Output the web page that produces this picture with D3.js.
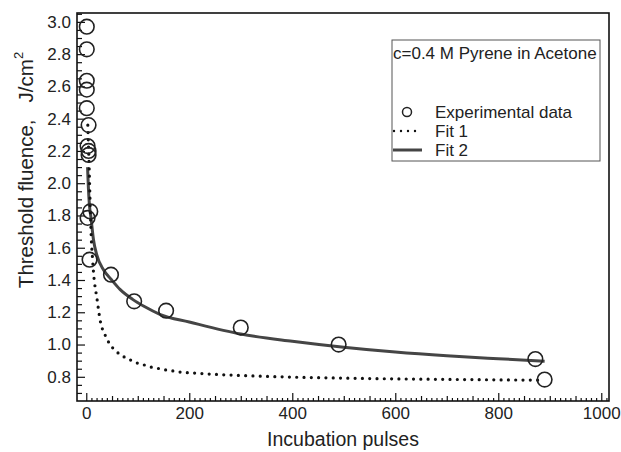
<!DOCTYPE html>
<html>
<head>
<meta charset="utf-8">
<script src="https://cdn.jsdelivr.net/npm/d3@7"></script>
<style>
  body { margin: 0; background: #fff; }
  svg { font-family: "Liberation Sans", Arial, sans-serif; }
</style>
</head>
<body>
<div class="chart"></div>
<script>
// Experimental points
const pulses  = [1, 1, 1, 1, 1, 4.5, 2.5, 4.5, 4.5, 7.8, 2.5, 6.4, 48, 93, 155, 300, 490, 872, 890];
const fluence = [2.97, 2.83, 2.635, 2.58, 2.465, 2.36, 2.23, 2.20, 2.175, 1.825, 1.785, 1.526, 1.433, 1.268, 1.21, 1.105, 1.0, 0.91, 0.783];

// Fit 1 (dotted)
const fit1X = [3, 4, 5, 6, 7, 8, 9, 10, 12, 14, 21, 27, 37, 45, 57, 71, 86, 100, 114, 128, 143, 157, 171, 185, 200, 250, 300, 400, 500, 600, 700, 800, 880];
const fit1Y = [2.36, 2.26, 2.17, 2.05, 1.93, 1.82, 1.72, 1.64, 1.54, 1.45, 1.28, 1.15, 1.056, 1.006, 0.961, 0.928, 0.904, 0.884, 0.872, 0.858, 0.85, 0.841, 0.835, 0.828, 0.825, 0.815, 0.808, 0.798, 0.792, 0.787, 0.784, 0.781, 0.779];

// Fit 2 (solid)
const fit2X = [2.5, 4, 6, 9, 14, 20, 34, 48, 66, 90, 112, 144, 200, 300, 400, 500, 600, 700, 800, 890];
const fit2Y = [2.1, 1.98, 1.87, 1.79, 1.65, 1.56, 1.46, 1.405, 1.34, 1.28, 1.237, 1.186, 1.14, 1.065, 1.02, 0.983, 0.953, 0.93, 0.912, 0.897];

const xTicks = [0, 200, 400, 600, 800, 1000];
const yTicks = [0.8, 1.0, 1.2, 1.4, 1.6, 1.8, 2.0, 2.2, 2.4, 2.6, 2.8, 3.0];

const width = 621, height = 452;
const plotL = 77, plotR = 609, plotT = 13, plotB = 401;

const svg = d3.select(".chart").append("svg")
    .attr("width", width)
    .attr("height", height);

const x = d3.scaleLinear().domain([-18, 1015]).range([plotL, plotR]);
const y = d3.scaleLinear().domain([0.65, 3.055]).range([plotB, plotT]);

// minor ticks
const xMinor = d3.range(0, 1011, 10).filter(d => d % 50 !== 0);
const xMid = d3.range(0, 1011, 50).filter(d => d % 200 !== 0);
const yMinor = d3.range(0.7, 3.051, 0.05).map(d => +d.toFixed(2)).filter(d => Math.round(d * 100) % 20 !== 0);

function tickAxis(axis, vals, size) {
    return axis.tickValues(vals).tickSizeInner(-size).tickSizeOuter(0).tickFormat("");
}

const gx = svg.append("g").attr("transform", `translate(0,${plotB})`);
gx.append("g").call(tickAxis(d3.axisBottom(x), xMinor, 3));
gx.append("g").call(tickAxis(d3.axisBottom(x), xMid, 5));
gx.append("g").call(d3.axisBottom(x).tickValues(xTicks).tickSizeInner(-8).tickSizeOuter(0).tickPadding(6)
    .tickFormat(d3.format("d")));

const gy = svg.append("g").attr("transform", `translate(${plotL},0)`);
gy.append("g").call(tickAxis(d3.axisLeft(y), yMinor, 5));
gy.append("g").call(d3.axisLeft(y).tickValues(yTicks).tickSizeInner(-8).tickSizeOuter(0).tickPadding(6)
    .tickFormat(d3.format(".1f")));

svg.selectAll(".domain").remove();
svg.selectAll(".tick line").attr("stroke", "#111").attr("stroke-width", 1.2);
svg.selectAll("g").attr("font-family", null);
svg.selectAll(".tick text").attr("font-size", 17).attr("fill", "#222");

// frame
svg.append("rect")
    .attr("x", plotL).attr("y", plotT)
    .attr("width", plotR - plotL).attr("height", plotB - plotT)
    .attr("fill", "none").attr("stroke", "#111").attr("stroke-width", 1.6);

const line = d3.line().x(d => x(d[0])).y(d => y(d[1])).curve(d3.curveMonotoneX);

svg.append("path")
    .datum(d3.zip(fit2X, fit2Y))
    .attr("d", line)
    .attr("fill", "none").attr("stroke", "#454545").attr("stroke-width", 3);

svg.append("path")
    .datum(d3.zip(fit1X, fit1Y))
    .attr("d", line)
    .attr("fill", "none").attr("stroke", "#111").attr("stroke-width", 3.2)
    .attr("stroke-linecap", "round").attr("stroke-dasharray", "0 7.3");

svg.append("g").selectAll("circle")
    .data(d3.zip(pulses, fluence))
    .join("circle")
    .attr("cx", d => x(d[0])).attr("cy", d => y(d[1]))
    .attr("r", 7.3)
    .attr("fill", "none").attr("stroke", "#222").attr("stroke-width", 1.6);

// legend
const lg = svg.append("g");
lg.append("rect")
    .attr("x", 392).attr("y", 40).attr("width", 208).attr("height", 121)
    .attr("fill", "#fff").attr("stroke", "#555").attr("stroke-width", 1);
lg.append("text").attr("x", 393).attr("y", 59).attr("font-size", 17).attr("fill", "#222")
    .text("c=0.4 M Pyrene in Acetone");
const rows = [
    {label: "Experimental data", y: 112, kind: "circle"},
    {label: "Fit 1", y: 131, kind: "dot"},
    {label: "Fit 2", y: 150, kind: "line"}
];
rows.forEach(r => {
    if (r.kind === "circle") {
        lg.append("circle").attr("cx", 407).attr("cy", r.y).attr("r", 4.5)
            .attr("fill", "none").attr("stroke", "#222").attr("stroke-width", 1.5);
    } else if (r.kind === "dot") {
        lg.append("line").attr("x1", 394).attr("x2", 420).attr("y1", r.y).attr("y2", r.y)
            .attr("stroke", "#111").attr("stroke-width", 2.4).attr("stroke-linecap", "round")
            .attr("stroke-dasharray", "0 7");
    } else {
        lg.append("line").attr("x1", 393).attr("x2", 422).attr("y1", r.y).attr("y2", r.y)
            .attr("stroke", "#454545").attr("stroke-width", 3);
    }
    lg.append("text").attr("x", 435).attr("y", r.y + 6).attr("font-size", 17).attr("fill", "#222")
        .text(r.label);
});

// axis titles
svg.append("text")
    .attr("x", (plotL + plotR) / 2).attr("y", 446)
    .attr("text-anchor", "middle").attr("font-size", 19.5).attr("fill", "#222")
    .text("Incubation pulses");

const yt = svg.append("text")
    .attr("transform", "translate(33,170) rotate(-90)")
    .attr("text-anchor", "middle").attr("font-size", 20.5).attr("fill", "#222")
    .attr("xml:space", "preserve");
yt.append("tspan").text("Threshold fluence,   J/cm");
yt.append("tspan").attr("dy", -10).attr("font-size", 13).text("2");
</script>
</body>
</html>
